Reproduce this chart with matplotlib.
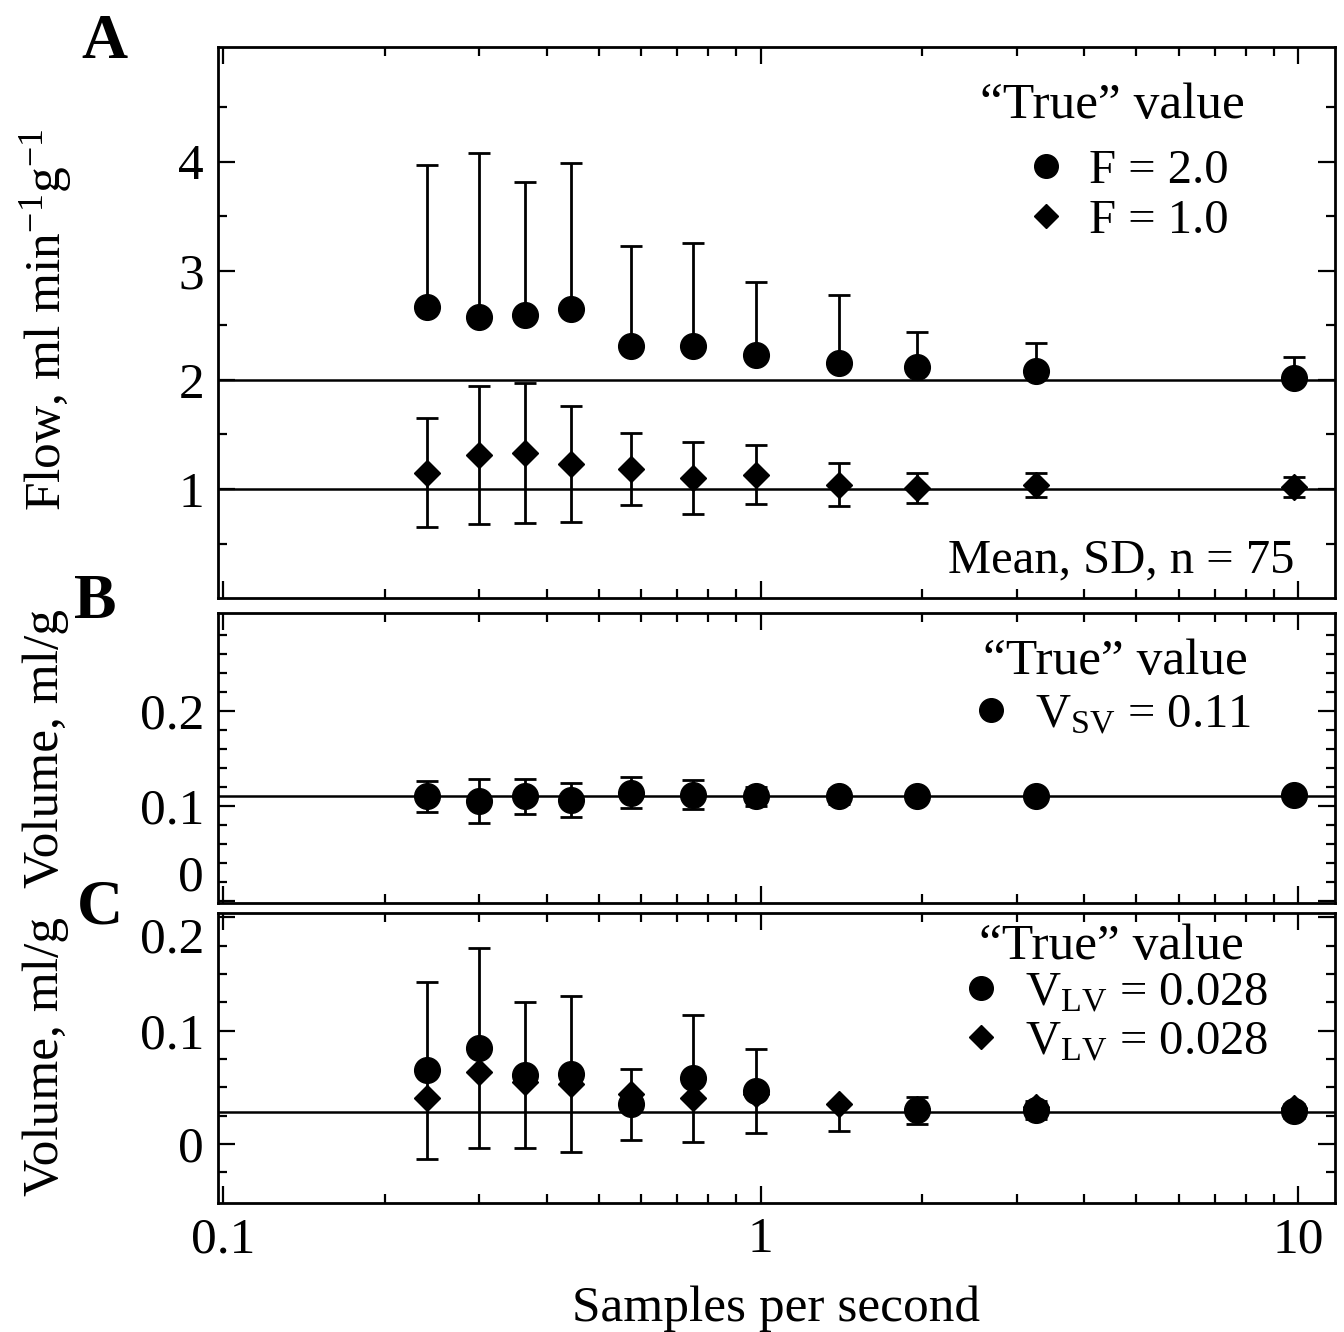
import numpy as np
import matplotlib
matplotlib.use("Agg")
import matplotlib.pyplot as plt
from matplotlib.lines import Line2D

plt.rcParams['font.family'] = ['Liberation Serif', 'DejaVu Serif']
plt.rcParams['mathtext.fontset'] = 'custom'
plt.rcParams['mathtext.rm'] = 'Liberation Serif'
plt.rcParams['mathtext.default'] = 'regular'

# samples per second
rate = [0.24, 0.30, 0.365, 0.445, 0.575, 0.75, 0.98, 1.4, 1.95, 3.25, 9.8]

# panel A: flow, true F = 2.0 (circles) and F = 1.0 (diamonds)
flow2_mean = [2.67, 2.58, 2.59, 2.65, 2.31, 2.31, 2.23, 2.15, 2.12, 2.08, 2.02]
flow2_sd = [1.30, 1.50, 1.22, 1.34, 0.92, 0.94, 0.67, 0.63, 0.32, 0.26, 0.19]
flow1_mean = [1.15, 1.31, 1.33, 1.23, 1.18, 1.10, 1.13, 1.04, 1.01, 1.04, 1.02]
flow1_sd = [0.50, 0.63, 0.64, 0.53, 0.33, 0.33, 0.27, 0.20, 0.14, 0.11, 0.09]

# panel B: V_SV
vsv_mean = [0.110, 0.105, 0.110, 0.106, 0.114, 0.112, 0.110, 0.110, 0.111, 0.111, 0.112]
vsv_sd = [0.016, 0.023, 0.018, 0.018, 0.016, 0.015, 0.010, 0.008, 0.006, 0.005, 0.005]

# panel C: V_LV, two estimates
vlv_c_mean = [0.065, 0.085, 0.061, 0.062, 0.035, 0.058, 0.047, np.nan, 0.030, 0.030, 0.029]
vlv_c_sd = [0.078, 0.088, 0.064, 0.069, 0.031, 0.056, 0.037, np.nan, 0.012, 0.008, 0.006]
vlv_d_mean = [0.041, 0.064, 0.055, 0.053, 0.044, 0.041, 0.044, 0.035, 0.031, 0.033, 0.032]
vlv_d_sd = [np.nan, np.nan, np.nan, np.nan, np.nan, np.nan, np.nan, 0.023, np.nan, np.nan, np.nan]

true_flow = [2.0, 1.0]
true_vsv = 0.11
true_vlv = 0.028

FS = 35
TFS = 37
x = np.array(rate)

fig = plt.figure(figsize=(13.44, 13.32), dpi=100)
W = 0.8311
axA = fig.add_axes([0.1622, 0.551, W, 0.4137])
axB = fig.add_axes([0.1622, 0.3221, W, 0.2177])
axC = fig.add_axes([0.1622, 0.0968, W, 0.2178])

ebk = dict(fmt='none', ecolor='black', elinewidth=2.0, capsize=8, capthick=2.0, zorder=2)
mk_c = dict(marker='o', ms=18.5, color='black', ls='none', zorder=3)
mk_d = dict(marker='D', ms=13, color='black', ls='none', zorder=3)
leg_kw = dict(loc='upper right', frameon=False, fontsize=FS, handlelength=0.8,
              handletextpad=0.5, borderpad=0, borderaxespad=0)


def style(ax):
    ax.set_xscale('log')
    ax.set_xlim(0.098, 11.7)
    ax.set_xticks([0.1, 1, 10])
    ax.tick_params(which='both', direction='in', top=True, right=True,
                   labelsize=TFS, width=1.6, pad=10)
    ax.tick_params(which='major', length=12)
    ax.tick_params(which='minor', length=6.5)
    for s in ax.spines.values():
        s.set_linewidth(2.0)


def handles(kinds):
    out = []
    for k in kinds:
        if k == 'o':
            out.append(Line2D([], [], marker='o', ms=17, color='black', ls='none'))
        else:
            out.append(Line2D([], [], marker='D', ms=12, color='black', ls='none'))
    return out


# ---- A
for t in true_flow:
    axA.axhline(t, color='black', lw=1.8, zorder=1)
axA.errorbar(x, flow2_mean, yerr=[np.zeros(len(x)), flow2_sd], **ebk)
axA.errorbar(x, flow1_mean, yerr=flow1_sd, **ebk)
axA.plot(x, flow2_mean, **mk_c)
axA.plot(x, flow1_mean, **mk_d)
style(axA)
axA.set_ylim(0.0, 5.05)
axA.set_yticks([1, 2, 3, 4])
axA.set_yticks(np.arange(0.5, 5.0, 0.5), minor=True)
axA.set_xticklabels([])
axA.text(0.964, 0.069, 'Mean, SD, n = 75', transform=axA.transAxes,
         ha='right', va='center', fontsize=FS)
axA.text(0.801, 0.893, '\u201cTrue\u201d value', transform=axA.transAxes,
         ha='center', va='center', fontsize=TFS)
axA.legend(handles('oD'), ['F = 2.0', 'F = 1.0'], bbox_to_anchor=(0.905, 0.815),
           labelspacing=0.12, **leg_kw)

# ---- B
axB.axhline(true_vsv, color='black', lw=1.8, zorder=1)
axB.errorbar(x, vsv_mean, yerr=vsv_sd, **ebk)
axB.plot(x, vsv_mean, **mk_c)
style(axB)
axB.set_ylim(-0.002, 0.303)
axB.set_yticks([0, 0.1, 0.2])
axB.set_yticklabels(['0', '0.1', '0.2'])
axB.set_yticks(np.arange(0.02, 0.3, 0.02), minor=True)
axB.get_yticklabels()[0].set_va('bottom')
axB.set_xticklabels([])
axB.text(0.8035, 0.831, '\u201cTrue\u201d value', transform=axB.transAxes,
         ha='center', va='center', fontsize=TFS)
axB.legend(handles('o'), ['V$_{SV}$ = 0.11'], bbox_to_anchor=(0.925, 0.725), **leg_kw)

# ---- C
axC.axhline(true_vlv, color='black', lw=1.8, zorder=1)
axC.errorbar(x, vlv_c_mean, yerr=vlv_c_sd, **ebk)
axC.errorbar(x, vlv_d_mean, yerr=[vlv_d_sd, np.zeros(len(x))], **ebk)
axC.plot(x, vlv_d_mean, **mk_d)
axC.plot(x, vlv_c_mean, **mk_c)
style(axC)
axC.set_ylim(-0.052, 0.204)
axC.set_yticks([0, 0.1, 0.2])
axC.set_yticklabels(['0', '0.1', '0.2'])
axC.set_yticks(np.arange(-0.025, 0.2, 0.025), minor=True)
axC.get_yticklabels()[2].set_va('top')
axC.set_xticklabels(['0.1', '1', '10'])
axC.set_xlabel('Samples per second', fontsize=TFS, labelpad=16)
axC.text(0.8, 0.883, '\u201cTrue\u201d value', transform=axC.transAxes,
         ha='center', va='center', fontsize=TFS)
axC.legend(handles('oD'), ['V$_{LV}$ = 0.028', 'V$_{LV}$ = 0.028'],
           bbox_to_anchor=(0.94, 0.8), labelspacing=0.1, **leg_kw)

# y labels and panel letters
fig.text(0.034, 0.76, 'Flow, ml min$^{-1}$g$^{-1}$', rotation=90,
         ha='center', va='center', fontsize=TFS)
fig.text(0.034, 0.438, 'Volume, ml/g', rotation=90, ha='center', va='center', fontsize=TFS)
fig.text(0.034, 0.207, 'Volume, ml/g', rotation=90, ha='center', va='center', fontsize=TFS)
fig.text(0.078, 0.968, 'A', fontsize=46, fontweight='bold', ha='center', va='center')
fig.text(0.071, 0.547, 'B', fontsize=46, fontweight='bold', ha='center', va='center')
fig.text(0.074, 0.318, 'C', fontsize=46, fontweight='bold', ha='center', va='center')

fig.savefig('out.png', dpi=100)
